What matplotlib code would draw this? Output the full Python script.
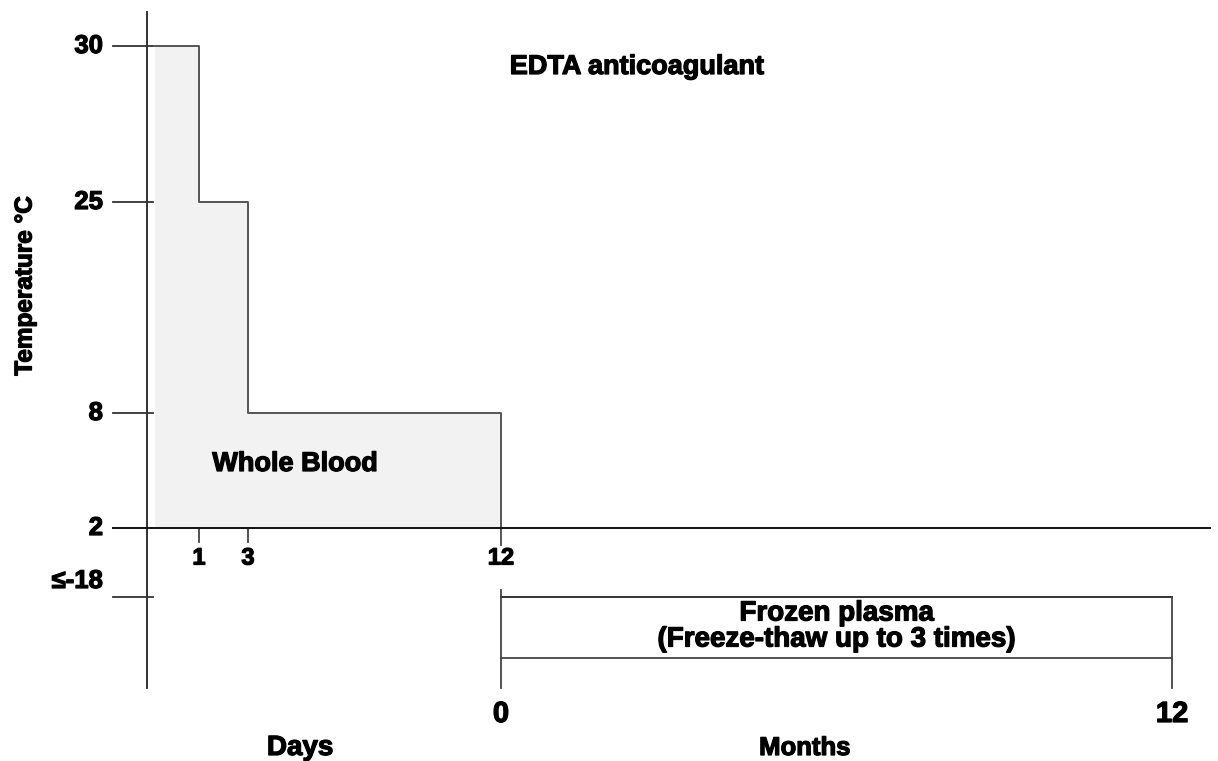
import numpy as np
import matplotlib
matplotlib.use("Agg")
import matplotlib.pyplot as plt
import matplotlib.patheffects as pe

# ---- data ----
day_bounds = [0, 1, 3, 12]          # days at which allowed temperature steps down
step_temps = [30, 25, 8]            # max temperature within each interval (°C)
base_temp = 2                       # lower bound for whole blood
temp_ticks = [30, 25, 8, 2, -18]
temp_tick_labels = ['30', '25', '8', '2', '≤-18']
day_ticks = [1, 3, 12]
day_tick_labels = ['1', '3', '12']
month_ticks = [0, 12]
month_tick_labels = ['0', '12']
frozen_months = [0, 12]
frozen_temp = -18

# ---- schematic scales (layout anchors, pixel space) ----
DAY_A, DAY_P = [0, 1, 3, 12], [155, 199, 248, 501]
TMP_A, TMP_P = [-18, 2, 8, 25, 30], [597, 528, 413, 202, 46]
MON_A, MON_P = [0, 12], [501, 1172]
fx = lambda d: np.interp(d, DAY_A, DAY_P)
fy = lambda t: np.interp(t, TMP_A, TMP_P)
fm = lambda m: np.interp(m, MON_A, MON_P)

NORMAL = ['Liberation Sans', 'DejaVu Sans']
NARROW = ['Liberation Sans Narrow', 'Liberation Sans', 'DejaVu Sans']
HEAVY = [pe.withStroke(linewidth=0.9, foreground='black')]

fig = plt.figure(figsize=(12.18, 7.61), dpi=100)
ax = fig.add_axes([0, 0, 1, 1])
ax.set_xlim(0, 1218)
ax.set_ylim(761, 0)
ax.axis('off')

def label(x, y, s, size, fam=NORMAL, **kw):
    ax.text(x, y, s, fontsize=size, fontweight='bold', family=fam,
            path_effects=HEAVY, **kw)

# whole blood step area
xs, ys = [], []
for i, t in enumerate(step_temps):
    xs += [fx(day_bounds[i]), fx(day_bounds[i + 1])]
    ys += [fy(t), fy(t)]
ax.fill_between(xs, ys, fy(base_temp), color='#f2f2f2', lw=0, zorder=1)
sx = list(xs) + [xs[-1]]
sy = list(ys) + [fy(base_temp) + 17]
ax.plot(sx, sy, color='#555555', lw=1.4, zorder=2)

# y axis line
ax.plot([147, 147], [12, 688], color='#222222', lw=1.3, zorder=3)
# temperature ticks
for t, lab in zip(temp_ticks, temp_tick_labels):
    y = fy(t)
    if t == base_temp:
        ax.plot([113, 1210], [y, y], color='#111111', lw=1.4, zorder=3)
    else:
        ax.plot([113, 153], [y, y], color='#333333', lw=1.3, zorder=3)
    ty = y - 16 if t == frozen_temp else y
    label(103, ty, lab, 18.5, ha='right', va='center')

# day ticks
for d, lab in zip(day_ticks, day_tick_labels):
    x = fx(d)
    if d != 12:
        ax.plot([x, x], [fy(base_temp), fy(base_temp) + 14], color='#444444', lw=1.3)
    label(x, 558, lab, 17, ha='center', va='center')

# frozen plasma box
x0, x1 = fm(frozen_months[0]), fm(frozen_months[1])
ytop = fy(frozen_temp)
ybot = ytop + 61
ax.plot([x0, x1], [ytop, ytop], color='#222222', lw=1.3)
ax.plot([x0, x1], [ybot, ybot], color='#444444', lw=1.3)
ax.plot([x0, x0], [ytop - 7, 688], color='#444444', lw=1.3)
ax.plot([x1, x1], [ytop, 688], color='#444444', lw=1.3)
label((x0 + x1) / 2, (ytop + ybot) / 2 - 1, 'Frozen plasma\n(Freeze-thaw up to 3 times)',
      20, fam=NARROW, ha='center', va='center', linespacing=1.0)

for m, lab in zip(month_ticks, month_tick_labels):
    label(fm(m), 714, lab, 21, fam=NARROW, ha='center', va='center')

# labels
label(300, 748, 'Days', 20, fam=NARROW, ha='center', va='center')
label(805, 748, 'Months', 18.5, fam=NARROW, ha='center', va='center')
label(25, 286, 'Temperature °C', 17.5, ha='center', va='center', rotation=90)
label(637, 67, 'EDTA anticoagulant', 19.5, ha='center', va='center')
label(295, 464, 'Whole Blood', 19.5, ha='center', va='center')

fig.savefig('out.png', dpi=100)
